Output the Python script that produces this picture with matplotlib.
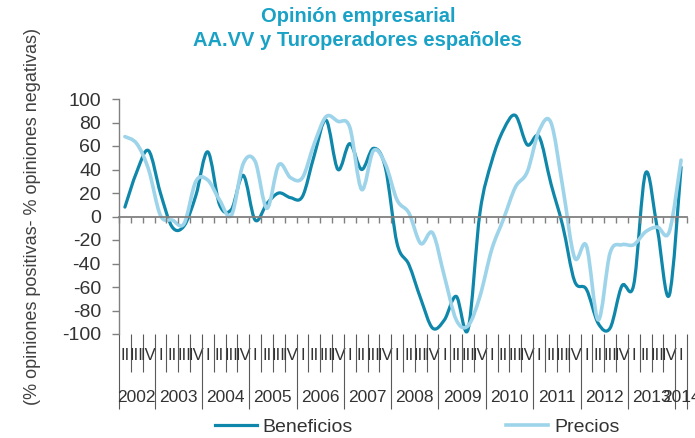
import numpy as np
import matplotlib
matplotlib.use('Agg')
import matplotlib.pyplot as plt
from matplotlib.path import Path
from matplotlib.patches import PathPatch
from matplotlib.lines import Line2D

plt.rcParams['font.family'] = ['Liberation Sans', 'DejaVu Sans']
plt.rcParams['axes.unicode_minus'] = False

# quarterly data, 2002 Q2 - 2014 Q1
years = ['2002', '2003', '2004', '2005', '2006', '2007', '2008',
         '2009', '2010', '2011', '2012', '2013', '2014']
quarters_per_year = [3, 4, 4, 4, 4, 4, 4, 4, 4, 4, 4, 4, 1]
quarter_labels = ['II', 'III', 'IV'] + ['I', 'II', 'III', 'IV'] * 11 + ['I']

beneficios = [8, 38, 56, 20, -9, -8, 18, 55, 10, 6, 35, -3,
              11, 20, 16, 17, 52, 82, 40, 62, 40, 58, 42, -23,
              -41, -70, -95, -88, -68, -96, 3, 47, 74, 86, 61, 68,
              28, -8, -55, -62, -91, -95, -59, -58, 37, -11, -67, 42]
precios = [68, 62, 40, 1, -3, -6, 30, 31, 14, 1, 45, 47,
           7, 44, 33, 33, 62, 85, 81, 76, 23, 56, 45, 14,
           3, -23, -14, -51, -88, -93, -68, -28, -2, 25, 38, 73,
           80, 25, -35, -25, -88, -31, -24, -24, -13, -9, -13, 48]

c_benef = '#0E87AA'
c_prec = '#9DD4EA'
c_title = '#1AA2C6'
grey = '#808080'
sep = '#595959'


def smooth_path(x, y):
    # excel-like smoothed line: cubic bezier through every point
    n = len(x)
    verts = [(x[0], y[0])]
    codes = [Path.MOVETO]
    for i in range(n - 1):
        a = max(i - 1, 0)
        b = min(i + 2, n - 1)
        c1 = (x[i] + (x[i + 1] - x[a]) / 6.0, y[i] + (y[i + 1] - y[a]) / 6.0)
        c2 = (x[i + 1] - (x[b] - x[i]) / 6.0, y[i + 1] - (y[b] - y[i]) / 6.0)
        verts += [c1, c2, (x[i + 1], y[i + 1])]
        codes += [Path.CURVE4] * 3
    return Path(verts, codes)


n = len(beneficios)
xc = np.arange(n) + 0.5
bounds = np.arange(n + 1)
year_bounds = np.concatenate([[0], np.cumsum(quarters_per_year)])
year_centers = (year_bounds[:-1] + year_bounds[1:]) / 2.0
q_bounds = [b for b in bounds if b not in year_bounds]

fig = plt.figure(figsize=(6.95, 4.38), dpi=100)
ax = fig.add_axes([119 / 695, 1 - 334 / 438, 568 / 695, 235 / 438])

ax.add_patch(PathPatch(smooth_path(xc, beneficios), facecolor='none',
                       edgecolor=c_benef, lw=2.3, joinstyle='round', capstyle='round'))
ax.add_patch(PathPatch(smooth_path(xc, precios), facecolor='none',
                       edgecolor=c_prec, lw=2.6, joinstyle='round', capstyle='round'))

ax.set_xlim(0, n)
ax.set_ylim(-100, 100)

# axis crossing at zero with quarter ticks
for s in ['top', 'right']:
    ax.spines[s].set_visible(False)
ax.spines['bottom'].set_position(('data', 0))
ax.spines['bottom'].set_color(grey)
ax.spines['bottom'].set_linewidth(1.3)
ax.spines['left'].set_color(grey)
ax.spines['left'].set_linewidth(1.0)
ax.set_xticks(bounds)
ax.tick_params(axis='x', length=4, width=1, color=grey, labelbottom=False)
ax.set_yticks(range(-100, 101, 20))
ax.tick_params(axis='y', length=5, width=1, color=grey, labelsize=14,
               pad=8, labelcolor='#333333')

# quarter row
qax = ax.secondary_xaxis('bottom')
qax.spines['bottom'].set_visible(False)
qax.set_xticks(q_bounds, [''] * len(q_bounds))
qax.set_xticks(xc, quarter_labels, minor=True)
qax.tick_params(which='major', length=27, width=0.8, color=sep)
qax.tick_params(which='minor', length=0, pad=10, labelsize=12, labelcolor='#333333')

# year row
yax = ax.secondary_xaxis('bottom')
yax.spines['bottom'].set_visible(False)
yax.set_xticks(year_bounds, [''] * len(year_bounds))
yax.set_xticks(year_centers, years, minor=True)
yax.tick_params(which='major', length=54, width=0.8, color=sep)
yax.tick_params(which='minor', length=0, pad=40, labelsize=12.5, labelcolor='#333333')

fig.text(0.515, 1 - 16 / 438, 'Opinión empresarial', ha='center', va='center',
         fontsize=14.5, fontweight='bold', color=c_title)
fig.text(0.515, 1 - 40 / 438, 'AA.VV y Turoperadores españoles', ha='center', va='center',
         fontsize=14.5, fontweight='bold', color=c_title)

fig.text(0.047, 0.505, '(% opiniones positivas- % opiniones negativas)', rotation=90,
         ha='center', va='center', fontsize=13, color='#404040')

handles = [Line2D([], [], color=c_benef, lw=2.3), Line2D([], [], color=c_prec, lw=2.6)]
fig.legend(handles, ['Beneficios', 'Precios'], loc='center', bbox_to_anchor=(0.6, 0.025),
           ncol=2, frameon=False, fontsize=14, handlelength=2.15, handletextpad=0.3,
           columnspacing=7.9, labelcolor='#333333')

fig.savefig('out.png', dpi=100)
